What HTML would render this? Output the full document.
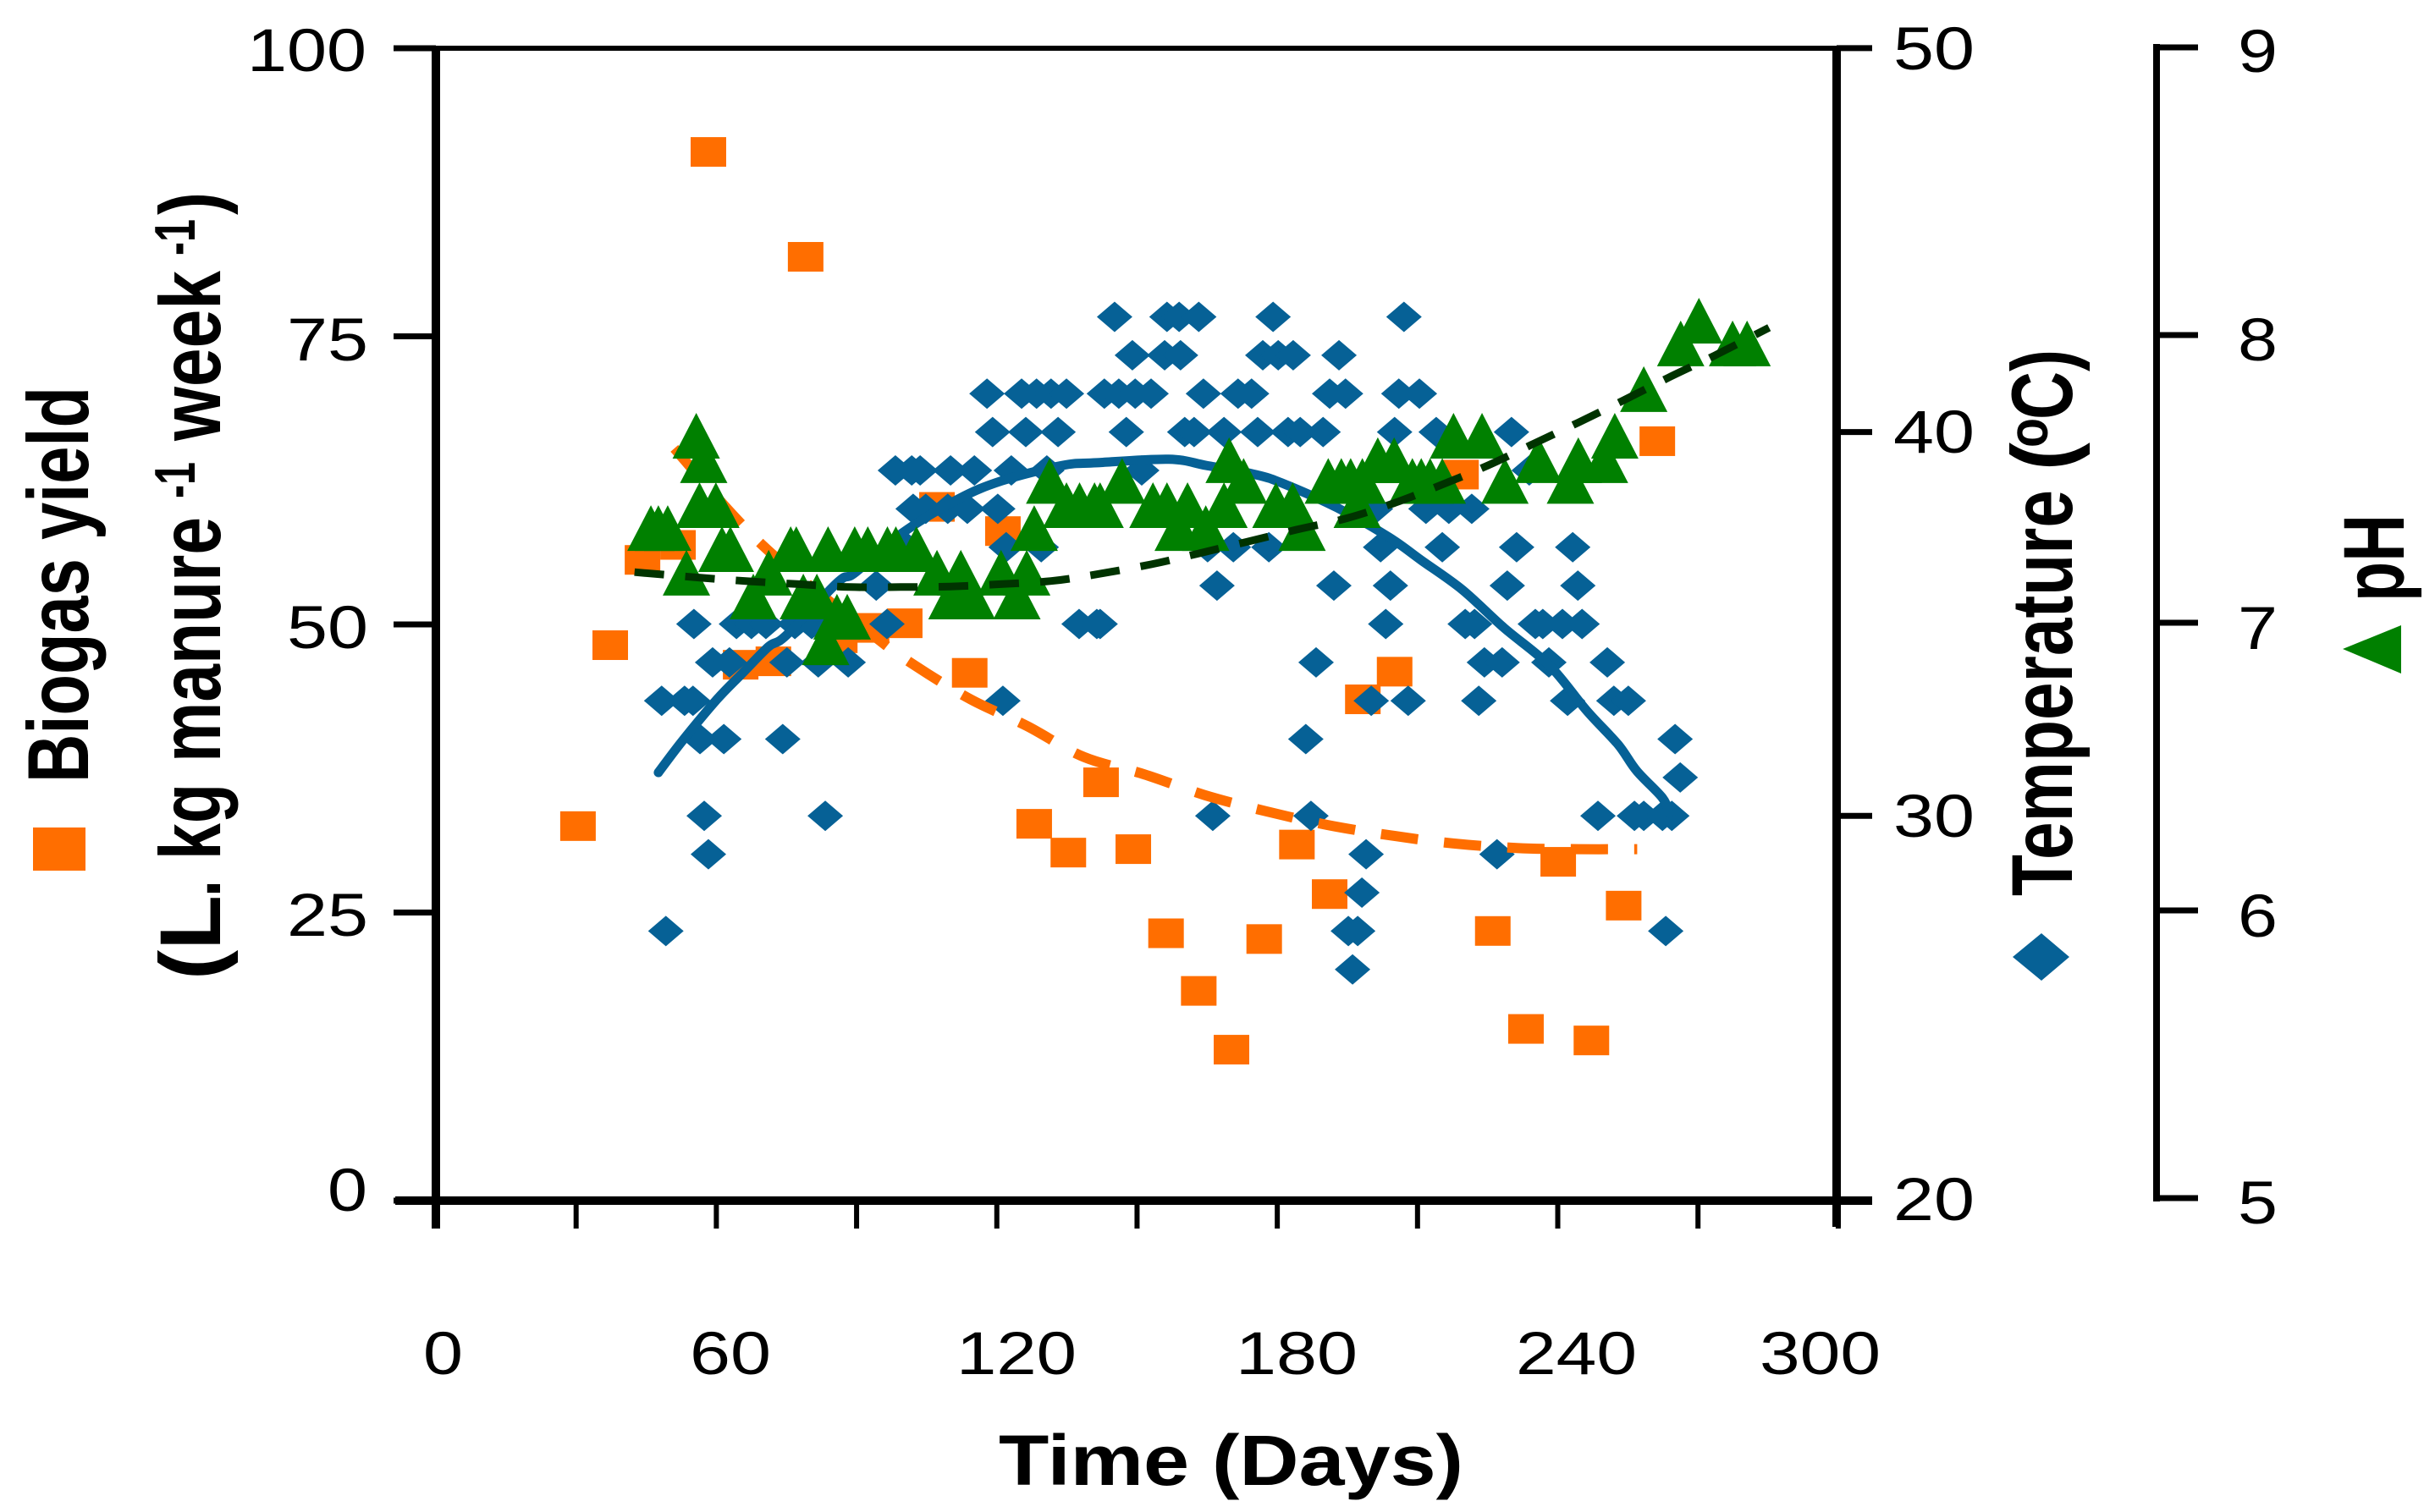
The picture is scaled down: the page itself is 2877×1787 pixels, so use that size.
<!DOCTYPE html>
<html lang="en">
<head>
<meta charset="utf-8">
<title>Biogas yield, temperature and pH over time</title>
<style>
html,body{margin:0;padding:0;background:#fff;}
svg{display:block;}
text{font-family:"Liberation Sans",Arial,sans-serif;fill:#000;}
.tick{font-size:71px;}
.title{font-size:102px;font-weight:bold;}
.sup{font-size:68px;font-weight:bold;}
</style>
</head>
<body>
<svg id="chart" xmlns="http://www.w3.org/2000/svg" width="2877" height="1787" viewBox="0 0 2877 1787">
  <rect x="0" y="0" width="2877" height="1787" fill="#ffffff"/>
  <g id="marks"></g>
  <g id="axes"></g>

  <g>
    <text class="tick" x="292" y="84" textLength="141" lengthAdjust="spacingAndGlyphs">100</text>
    <text class="tick" x="339" y="426" textLength="96" lengthAdjust="spacingAndGlyphs">75</text>
    <text class="tick" x="339" y="766" textLength="96" lengthAdjust="spacingAndGlyphs">50</text>
    <text class="tick" x="339" y="1106" textLength="96" lengthAdjust="spacingAndGlyphs">25</text>
    <text class="tick" x="387" y="1431" textLength="47" lengthAdjust="spacingAndGlyphs">0</text>
  </g>
  <g>
    <text class="tick" x="2237" y="82" textLength="96" lengthAdjust="spacingAndGlyphs">50</text>
    <text class="tick" x="2237" y="535" textLength="96" lengthAdjust="spacingAndGlyphs">40</text>
    <text class="tick" x="2237" y="989" textLength="96" lengthAdjust="spacingAndGlyphs">30</text>
    <text class="tick" x="2237" y="1442" textLength="96" lengthAdjust="spacingAndGlyphs">20</text>
  </g>
  <g>
    <text class="tick" x="2644" y="85" textLength="47" lengthAdjust="spacingAndGlyphs">9</text>
    <text class="tick" x="2644" y="426" textLength="47" lengthAdjust="spacingAndGlyphs">8</text>
    <text class="tick" x="2644" y="767" textLength="47" lengthAdjust="spacingAndGlyphs">7</text>
    <text class="tick" x="2644" y="1107" textLength="47" lengthAdjust="spacingAndGlyphs">6</text>
    <text class="tick" x="2644" y="1446" textLength="47" lengthAdjust="spacingAndGlyphs">5</text>
  </g>
  <g>
    <text class="tick" x="500" y="1624" textLength="47" lengthAdjust="spacingAndGlyphs">0</text>
    <text class="tick" x="815" y="1624" textLength="96" lengthAdjust="spacingAndGlyphs">60</text>
    <text class="tick" x="1130" y="1624" textLength="142" lengthAdjust="spacingAndGlyphs">120</text>
    <text class="tick" x="1460" y="1624" textLength="144" lengthAdjust="spacingAndGlyphs">180</text>
    <text class="tick" x="1791" y="1624" textLength="143" lengthAdjust="spacingAndGlyphs">240</text>
    <text class="tick" x="2079" y="1624" textLength="143" lengthAdjust="spacingAndGlyphs">300</text>
  </g>

  <text class="title" style="font-size:84px" x="1180" y="1755" textLength="549" lengthAdjust="spacingAndGlyphs">Time (Days)</text>

  <g>
    <text class="title" transform="translate(104,925) rotate(-90)" textLength="468" lengthAdjust="spacingAndGlyphs">Biogas yield</text>
    <text class="title" transform="translate(260,1158) rotate(-90)" textLength="100" lengthAdjust="spacingAndGlyphs">(L</text>
    <text class="title" transform="translate(260,1060) rotate(-90)" textLength="20" lengthAdjust="spacingAndGlyphs">.</text>
    <text class="title" transform="translate(260,1016) rotate(-90)" textLength="90" lengthAdjust="spacingAndGlyphs">kg</text>
    <text class="title" transform="translate(260,901) rotate(-90)" textLength="290" lengthAdjust="spacingAndGlyphs">manure</text>
    <text class="sup" transform="translate(230,589) rotate(-90)" textLength="43" lengthAdjust="spacingAndGlyphs">-1</text>
    <text class="title" transform="translate(260,521) rotate(-90)" textLength="201" lengthAdjust="spacingAndGlyphs">week</text>
    <text class="sup" transform="translate(230,302) rotate(-90)" textLength="43" lengthAdjust="spacingAndGlyphs">-1</text>
    <text class="title" transform="translate(260,254) rotate(-90)" textLength="27" lengthAdjust="spacingAndGlyphs">)</text>
  </g>

  <g>
    <text class="title" transform="translate(2448,1059) rotate(-90)" textLength="480" lengthAdjust="spacingAndGlyphs">Temperature</text>
    <text class="title" transform="translate(2448,556) rotate(-90)" textLength="33" lengthAdjust="spacingAndGlyphs">(</text>
    <text class="sup" style="font-size:66px" transform="translate(2419,529) rotate(-90)" textLength="35" lengthAdjust="spacingAndGlyphs">o</text>
    <text class="title" transform="translate(2448,496) rotate(-90)" textLength="57" lengthAdjust="spacingAndGlyphs">C</text>
    <text class="title" transform="translate(2448,439) rotate(-90)" textLength="26" lengthAdjust="spacingAndGlyphs">)</text>
  </g>

  <text class="title" transform="translate(2840,711) rotate(-90)" textLength="103" lengthAdjust="spacingAndGlyphs">pH</text>

  <rect x="39" y="978" width="62" height="51" fill="#ff6e00"/>
  <polygon points="2378,1131 2412,1103 2445,1131 2412,1159" fill="#066196"/>
  <polygon points="2768,767 2837,739 2837,796" fill="#008000"/>
</svg>

<script>
// Biogas yield (L . kg manure-1 week-1), left axis
const biogasDays = [58.3,79.1,37.3,30.4,44.2,51.8,107.2,121.3,100.3,93.2,86.4,72.2,65.2,114.2,128,135.3,142.3,149.2,156.2,163.2,170.2,177.2,184.2,191.2,198.3,205.1,226.1,233.2,240.1,247.2,254.1,261.3,219.3];
const biogasValues = [91,81.9,48.2,32.5,55.6,56.9,60.2,58.1,50.1,49.7,48.8,46.8,46.5,45.8,32.7,30.2,36.3,30.5,23.2,18.2,13.1,22.7,30.9,26.6,43.5,45.9,23.4,14.9,29.4,13.9,25.6,65.9,63];

// Temperature readings (deg C), first right axis
const tempDays = [
  145.2,156.4,159,163.2,179.1,207.1,
  149,155.9,159.3,176.9,180.2,183.4,193.2,
  117.9,125.3,128.5,131.6,134.9,143,146.1,149.6,153,164.2,171.6,174.5,191.2,194.6,206,210.4,
  119.1,126.2,133.1,147.7,160.2,162.2,168.6,175.8,182.3,184.9,189.8,205.1,214,230.1,
  98.3,101.8,103.6,110.1,115.2,123.1,130.7,151,233.9,
  102.1,104.8,109.5,113.7,120.2,201,211.8,216.7,221.6,
  100.7,122,129.5,165.1,170.6,178.2,202.1,215.3,231.2,243.2,
  94.2,167.1,192.1,204.2,229.2,244.3,
  55.2,64.3,67.5,70.6,76.8,80.4,96.5,137.6,141.4,142.1,203.2,220.2,222.2,235.2,236.8,241,245.2,
  59.2,62.8,75.1,81.8,88.2,188.3,224.3,228.1,238.1,250.6,
  48.3,53.2,55,121.3,200.1,208,223.1,242.1,252,255.1,
  56.5,61.6,74.2,186.1,265.1,
  266.2,
  57.4,83.3,166.2,187.2,248.6,256.4,258.4,262.4,264.4,
  58.3,199,227,
  198.1,
  49.2,195.2,197.2,263.1,
  196.1
];
const tempValues = [
  43,43,43,43,43,43,
  42,42,42,42,42,42,42,
  41,41,41,41,41,41,41,41,41,41,41,41,41,41,41,41,
  40,40,40,40,40,40,40,40,40,40,40,40,40,40,
  39,39,39,39,39,39,39,39,39,
  38,38,38,38,38,38,38,38,38,
  37,37,37,37,37,37,37,37,37,37,
  36,36,36,36,36,36,
  35,35,35,35,35,35,35,35,35,35,35,35,35,35,35,35,35,
  34,34,34,34,34,34,34,34,34,34,
  33,33,33,33,33,33,33,33,33,33,
  32,32,32,32,32,
  31,
  30,30,30,30,30,30,30,30,30,
  29,29,29,
  28,
  27,27,27,27,
  26
];

// pH readings, second right axis
const phDays = [55.7,57.3,56.4,59.9,46,47.6,49.6,53.6,61.2,63,67.9,71.2,75.9,77.1,83.9,89.6,92.4,96.6,98.4,102.8,107.2,112.3,110.4,114.6,120.9,126.4,124.3,81.5,78.6,85.8,88,83.4,131.3,128,134.9,137.7,140.9,142.1,146.8,153.4,156.4,160.8,169.7,172.8,168.6,179.7,183.3,158.8,164.7,185.3,190.9,193.7,195.7,198.2,201.5,205,197.1,208.9,210.8,212.7,215.3,217.7,223.8,228.7,235.9,244.4,242.7,252.2,250,258.4,266.3,270.2,277.4,280.5];
const phValues = [7.65,7.565,7.409,7.409,7.329,7.329,7.329,7.174,7.256,7.256,7.091,7.174,7.256,7.256,7.256,7.256,7.256,7.256,7.256,7.256,7.174,7.174,7.091,7.091,7.174,7.174,7.091,7.091,7.091,7.021,7.021,6.932,7.493,7.329,7.409,7.409,7.409,7.409,7.493,7.409,7.409,7.409,7.565,7.493,7.409,7.409,7.409,7.329,7.329,7.329,7.493,7.493,7.493,7.493,7.565,7.565,7.409,7.493,7.493,7.493,7.493,7.65,7.65,7.493,7.565,7.565,7.493,7.65,7.565,7.812,7.971,8.05,7.971,7.971];

// Trend curves
const biogasTrendDays = [50.3,69.8,93.4,102.6,114.4,126.4,138.6,151.5,164.4,177.4,190.7,204.1,217.6,231.2,244.6,257];
const biogasTrendValues = [65.6,56.9,49.1,46.4,43.5,41.2,38.5,37,35.2,33.8,32.6,31.7,31,30.6,30.5,30.5];
const tempTrendDays = [47.6,52.7,60.1,65.6,71.2,74.9,86,89.6,99.8,111.7,121.1,134,141.4,156.8,164.8,175.4,181.4,192.8,203.9,210.8,219.6,228.5,238.3,246.2,252.9,256.9,262.4,263.8];
const tempTrendValues = [31.13,31.95,33.03,33.72,34.41,34.7,36.09,36.33,37.37,38.25,38.73,39.13,39.2,39.29,39.13,38.89,38.65,38.03,37.26,36.66,35.89,34.9,33.91,32.74,31.86,31.17,30.47,30.07];
const phTrendDays = [42.5,56.2,67,77.7,88.5,99.4,110,120.8,131.6,140.5,153,163.2,173.7,184.3,194.8,205,215.1,225.1,234.8,244.4,254.2,263.8,273.6,285.2];
const phTrendValues = [7.176,7.157,7.144,7.134,7.124,7.124,7.126,7.134,7.145,7.166,7.203,7.241,7.282,7.324,7.363,7.416,7.479,7.547,7.622,7.696,7.774,7.853,7.929,8.026];

// Axis ticks
const xTicks = [0,30,60,90,120,150,180,210,240,270,300];
const biogasTicks = [0,25,50,75,100];
const tempTicks = [20,30,40,50];
const phTicks = [5,6,7,8,9];

// Axis functions
function xScale(d){ return 515 + d * 5.523; }
function biogasScale(v){ return 1419 - v * 13.62; }
function tempScale(v){ return 1418 - (v - 20) * 45.37; }
function phScale(v){ return 1416 - (v - 5) * 340; }

const NS = 'http://www.w3.org/2000/svg';
const marks = document.getElementById('marks');
const axes = document.getElementById('axes');

function makeShape(tag, parent, attrs){
  const el = document.createElementNS(NS, tag);
  for (const k in attrs) el.setAttribute(k, attrs[k]);
  parent.appendChild(el);
  return el;
}
function axisLine(x1, y1, x2, y2, w){
  return makeShape('line', axes, {x1:x1, y1:y1, x2:x2, y2:y2, stroke:'#000', 'stroke-width':w});
}
// Smooth curve through the scaled readings (Catmull-Rom to cubic Bezier)
function trendPath(days, values, yScale){
  const pts = days.map(function(d, i){ return [xScale(d), yScale(values[i])]; });
  let path = 'M' + pts[0][0].toFixed(1) + ' ' + pts[0][1].toFixed(1);
  for (let i = 0; i < pts.length - 1; i++){
    const p0 = pts[Math.max(i - 1, 0)], p1 = pts[i], p2 = pts[i + 1], p3 = pts[Math.min(i + 2, pts.length - 1)];
    const c1x = p1[0] + (p2[0] - p0[0]) / 6, c1y = p1[1] + (p2[1] - p0[1]) / 6;
    const c2x = p2[0] - (p3[0] - p1[0]) / 6, c2y = p2[1] - (p3[1] - p1[1]) / 6;
    path += ' C' + c1x.toFixed(1) + ' ' + c1y.toFixed(1) + ' ' + c2x.toFixed(1) + ' ' + c2y.toFixed(1) + ' ' + p2[0].toFixed(1) + ' ' + p2[1].toFixed(1);
  }
  return path;
}

// biogas squares
biogasDays.forEach(function(d, i){
  const cx = xScale(d), cy = biogasScale(biogasValues[i]);
  const el = makeShape('rect', marks, {x:cx - 21, y:cy - 17.5, width:42, height:35, fill:'#ff6e00'});
  
  
});

// temperature diamonds
tempDays.forEach(function(d, i){
  const cx = xScale(d), cy = tempScale(tempValues[i]);
  const pts = (cx - 21) + ',' + cy + ' ' + cx + ',' + (cy - 18) + ' ' + (cx + 21) + ',' + cy + ' ' + cx + ',' + (cy + 18);
  const el = makeShape('polygon', marks, {points:pts, fill:'#066196'});
  
  
});

// biogas trend
const biogasTrend = makeShape('path', marks, {d:trendPath(biogasTrendDays, biogasTrendValues, biogasScale), fill:'none', stroke:'#ff6e00', 'stroke-width':12, 'stroke-dasharray':'44 31', 'stroke-dashoffset':'69'});



// temperature trend
const tempTrend = makeShape('path', marks, {d:trendPath(tempTrendDays, tempTrendValues, tempScale), fill:'none', stroke:'#066196', 'stroke-width':11, 'stroke-linejoin':'round', 'stroke-linecap':'round'});



// pH triangles
phDays.forEach(function(d, i){
  const cx = xScale(d), cy = phScale(phValues[i]);
  const pts = cx + ',' + (cy - 27) + ' ' + (cx + 28) + ',' + (cy + 27) + ' ' + (cx - 28) + ',' + (cy + 27);
  const el = makeShape('polygon', marks, {points:pts, fill:'#008000'});
  
  
});

// pH trend
const phTrend = makeShape('path', marks, {d:trendPath(phTrendDays, phTrendValues, phScale), fill:'none', stroke:'#003300', 'stroke-width':9, 'stroke-dasharray':'35 25'});



// Axes frame
const leftAxis = axisLine(515, 54, 515, 1452, 10);



const rightAxis = axisLine(2170, 54, 2170, 1450, 10);



const topAxis = axisLine(515, 57, 2170, 57, 6);



const bottomAxis = axisLine(467, 1419, 2212, 1419, 10);



const phAxis = axisLine(2548, 52, 2548, 1420, 8);



// Ticks
xTicks.forEach(function(t){
  const el = axisLine(xScale(t), 1419, xScale(t), 1452, 6);
  
  
});
biogasTicks.forEach(function(t){
  const el = axisLine(465, biogasScale(t), 515, biogasScale(t), 7);
  
  
});
tempTicks.forEach(function(t){
  const el = axisLine(2170, tempScale(t), 2212, tempScale(t), 7);
  
  
});
phTicks.forEach(function(t){
  const el = axisLine(2544, phScale(t), 2597, phScale(t), 7);
  
  
});
</script>
</body>
</html>
